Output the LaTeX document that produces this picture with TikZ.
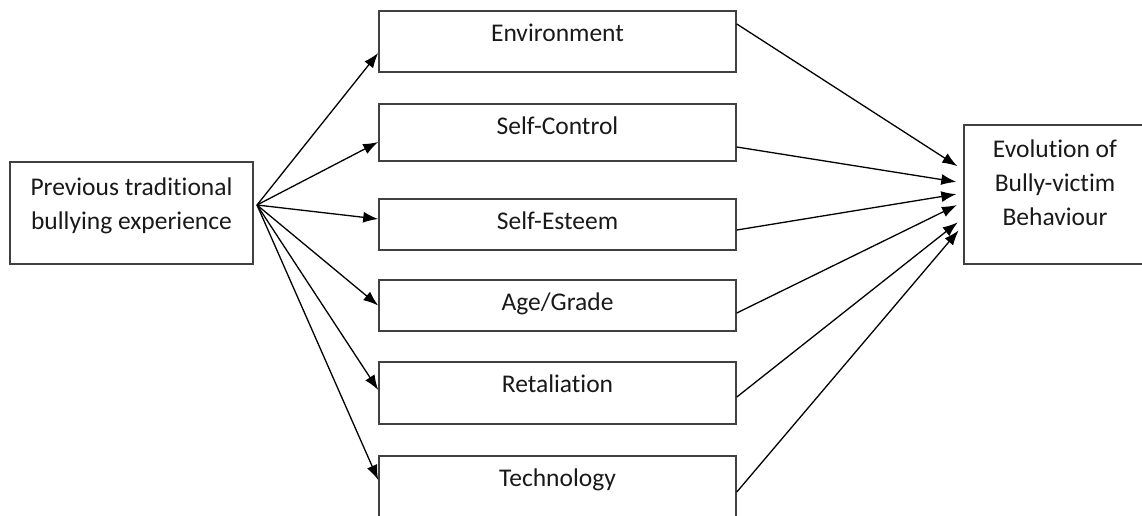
\documentclass[tikz,border=0pt]{standalone}
\usepackage{fontspec}
\setmainfont[Ligatures=NoCommon]{Carlito}
\usetikzlibrary{arrows.meta}

\begin{document}
\begin{tikzpicture}
  [x=1pt,y=-1pt,
   every node/.style={draw=black!75,line width=1.6pt,inner sep=0pt,font=\fontsize{25.5}{34}\selectfont,text=black!90},
   factor/.style={minimum width=357pt,text height=30pt},
   arr/.style={-{Latex[length=15pt,width=11pt]},line width=1.3pt}]
  \useasboundingbox (0,0) rectangle (1142,515);

  \node (prev) at (131.5,213) [minimum width=243pt,align=center,text height=67pt,text depth=35pt] {Previous traditional\\bullying experience};
  \node (env) at (557.5,41.5) [factor,text depth=31pt] {Environment};
  \node (ctrl) at (557.5,132.5) [factor,text depth=27pt] {Self-Control};
  \node (est) at (557.5,224.5) [factor,text depth=21pt] {Self-Esteem};
  \node (age) at (557.5,305.5) [factor,text depth=21pt] {Age/Grade};
  \node (ret) at (557.5,393) [factor,text depth=32pt] {Retaliation};
  \node (tech) at (557.5,490.5) [factor,text depth=39pt] {Technology};
  \node (evo) at (1055,194.5) [minimum width=182pt,align=center,text height=100pt,text depth=39pt] {Evolution of\\Bully-victim\\Behaviour};
  \coordinate (fan) at (257,205);

  % previous experience -> factors
  \foreach \to/\dy in {env/-11.5,ctrl/-9.5,est/5.5,age/0,ret/3,tech/10.5}
    \draw[arr] (fan) -- ([yshift=\dy pt]\to.west);

  % factors -> evolution
  \foreach \from/\dy/\ey in {env/17.5/24.5,ctrl/-14.5/11.5,est/-5.5/1.5,age/-7.5/-7.5,ret/-4/-23.5,tech/-1.5/-30.5}
    \draw[arr,shorten >=7pt] ([yshift=\dy pt]\from.east) -- ([yshift=\ey pt]evo.west);
\end{tikzpicture}
\end{document}
